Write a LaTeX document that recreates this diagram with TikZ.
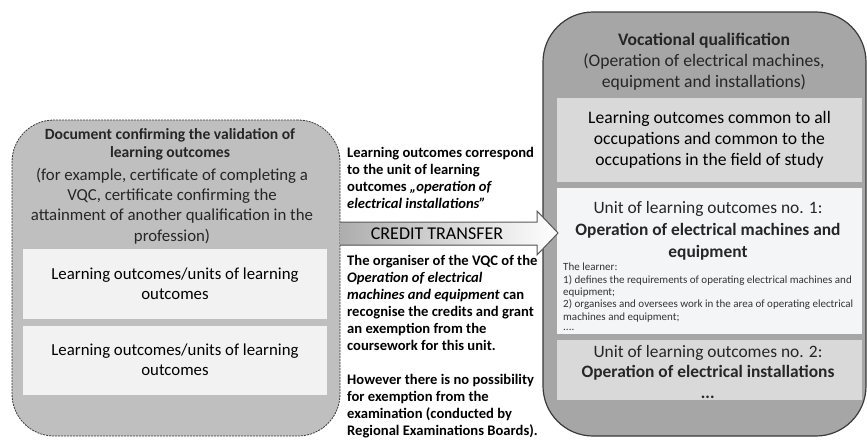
\documentclass[tikz,border=0pt]{standalone}
\usepackage{fontspec}
\setmainfont{Carlito}
\newcommand\myfs[2]{\fontsize{#1}{#2}\selectfont}
\definecolor{lgray}{HTML}{BFBFBF}
\definecolor{rgray}{HTML}{A6A6A6}
\definecolor{mgray}{HTML}{D9D9D9}
\definecolor{pale}{HTML}{F2F2F2}
\definecolor{paleb}{HTML}{F4F5F7}
\definecolor{edge}{HTML}{3A3A3A}
\begin{document}
\begin{tikzpicture}[x=1pt,y=-1pt,
  outerL/.style={draw=edge, fill=lgray, dashed, dash pattern=on 2pt off 1pt, line width=0.8pt, rounded corners=42pt, inner sep=0pt},
  outerR/.style={draw=edge, fill=rgray, line width=1.2pt, rounded corners=50pt, inner sep=0pt},
  inbox/.style={inner sep=0pt, align=center},
  txt/.style={inner sep=0pt, align=center, text=black!85},
  midtxt/.style={inner sep=0pt, align=left, font=\myfs{14.6}{17}\bfseries, text=black},
]
\useasboundingbox (0,0) rectangle (867,439);
% left outer box
\node[outerL, minimum width=328pt, minimum height=316pt] (lq) at (176,278) {};
\node[txt, font=\myfs{15.6}{18}\bfseries] (ltitle) at (170,144) {Document confirming the validation of\\learning outcomes};
\node[txt, font=\myfs{16.8}{20.4}] (lsub) at (172,206) {(for example, certificate of completing a\\VQC, certificate confirming the\\attainment of another qualification in the\\profession)};
\node[inbox, fill=pale, minimum width=304pt, minimum height=70pt, font=\myfs{16.8}{20.4}] (l1) at (175,284) {Learning outcomes/units of learning\\outcomes};
\node[inbox, fill=pale, minimum width=304pt, minimum height=69pt, font=\myfs{16.8}{20.4}] (l2) at (175,360) {Learning outcomes/units of learning\\outcomes};
% right outer box
\node[outerR, minimum width=323pt, minimum height=424pt] (rq) at (704.5,224) {};
\node[txt, font=\myfs{17.6}{21}] (rtitle) at (704,62) {\textbf{Vocational qualification}\\(Operation of electrical machines,\\equipment and installations)};
\node[inbox, fill=mgray, minimum width=305pt, minimum height=84pt, font=\myfs{17.6}{21}] (r1) at (709.5,140) {Learning outcomes common to all\\occupations and common to the\\occupations in the field of study};
\node[inbox, fill=paleb, minimum width=305pt, minimum height=146pt] (r2) at (709.5,261) {};
\node[txt, font=\myfs{17.4}{22}] (r2t) at (708,231) {Unit of learning outcomes no. 1:\\\textbf{Operation of electrical machines and}\\\textbf{equipment}};
\node[inbox, anchor=north west, align=left, font=\myfs{11}{12.3}, text=black!80] (r2s) at (563,263) {The learner:\\1) defines the requirements of operating electrical machines and\\equipment;\\2) organises and oversees work in the area of operating electrical\\machines and equipment;\\[-2pt]....};
\node[inbox, fill=mgray, minimum width=305pt, minimum height=60pt] (r3) at (709.5,370) {};
\node[txt, font=\myfs{17.4}{20.5}] (r3t) at (708,372) {Unit of learning outcomes no. 2:\\\textbf{Operation of electrical installations}\\\textbf{\textit{...}}};
% credit transfer arrow
\coordinate (a1) at (340,222);
\coordinate (a2) at (537,222);
\coordinate (a3) at (537,211);
\coordinate (tip) at (558,233);
\coordinate (a5) at (537,255);
\coordinate (a6) at (537,245);
\coordinate (a7) at (340,245);
\fill[left color=black!32, right color=white] (a1) -- (a2) -- (a3) -- (tip) -- (a5) -- (a6) -- (a7) -- cycle;
\draw[draw=black!65, line width=1pt, line join=miter] (a1) -- (a2) -- (a3) -- (tip) -- (a5) -- (a6) -- (a7);
\node[txt, font=\myfs{18}{20}, text=black] (ct) at (437,233.5) {CREDIT TRANSFER};
% middle texts
\node[midtxt, anchor=north west] (m1) at (347,147) {Learning outcomes correspond\\to the unit of learning\\outcomes \textit{„operation of}\\\textit{electrical installations”}};
\node[midtxt, anchor=north west] (m2) at (347,255) {The organiser of the VQC of the\\\textit{Operation of electrical}\\\textit{machines and equipment} can\\recognise the credits and grant\\an exemption from the\\coursework for this unit.\\[17pt]However there is no possibility\\for exemption from the\\examination (conducted by\\Regional Examinations Boards).};
\end{tikzpicture}
\end{document}
